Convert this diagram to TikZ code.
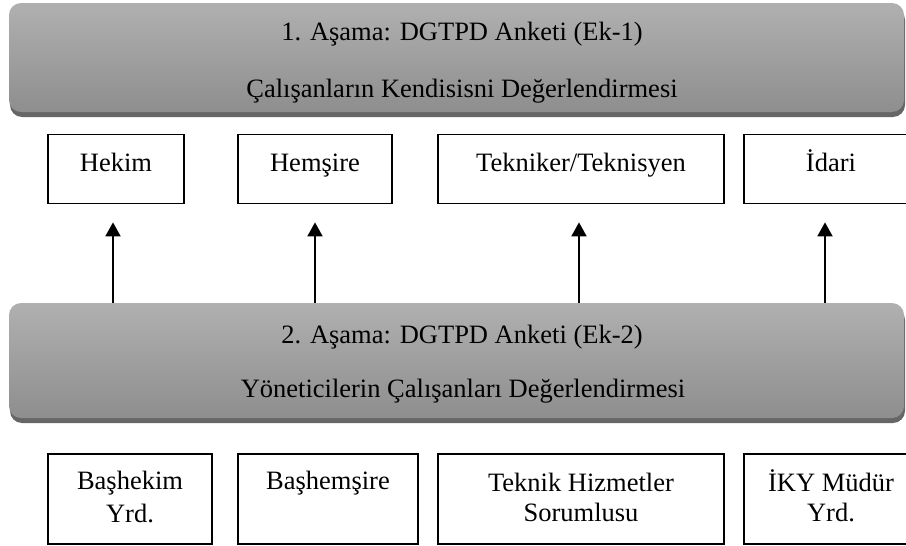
\documentclass[tikz,border=0pt]{standalone}
\usepackage{fontspec}
\setmainfont{Liberation Serif}
\usetikzlibrary{arrows.meta}
\definecolor{bantop}{RGB}{176,176,176}
\definecolor{banbot}{RGB}{142,142,142}
\definecolor{banshadow}{RGB}{102,102,102}
\begin{document}
\begin{tikzpicture}[x=1pt,y=-1pt,
  banner/.style={rectangle, rounded corners=12pt, top color=bantop, bottom color=banbot, draw=none, minimum width=895pt, inner sep=0pt},
  bshadow/.style={rectangle, rounded corners=12pt, fill=banshadow, draw=none, minimum width=895pt, inner sep=0pt},
  box/.style={rectangle, draw=black, line width=1.7pt, inner sep=0pt},
  lbl/.style={anchor=base, font=\fontsize{26.5}{32}\selectfont, inner sep=0pt},
  arr/.style={line width=1.8pt, -{Triangle[width=15pt,length=14pt]}}]
\useasboundingbox (0,0) rectangle (906,546);
\clip (0,0) rectangle (906,546);

% stage 1 banner
\node[bshadow, minimum height=109pt] (b1s) at (457.5,62.5) {};
\node[banner, minimum height=109pt] (b1) at (456.5,57.5) {};
\node[lbl] (t1a) at (462,41) {1. Aşama: DGTPD Anketi (Ek-1)};
\node[lbl] (t1b) at (462,97) {Çalışanların Kendisisni Değerlendirmesi};

% top boxes
\node[box, minimum width=136pt, minimum height=69pt] (hekim) at (116,169) {};
\node[box, minimum width=154pt, minimum height=69pt] (hemsire) at (315,169) {};
\node[box, minimum width=286pt, minimum height=69pt] (tekniker) at (581,169) {};
\node[box, minimum width=174pt, minimum height=69pt] (idari) at (831,169) {};
\node[lbl] (thekim) at (116,171) {Hekim};
\node[lbl] (themsire) at (315,171) {Hemşire};
\node[lbl] (ttekniker) at (581,171) {Tekniker/Teknisyen};
\node[lbl] (tidari) at (831,171) {İdari};

% stage 2 banner
\node[bshadow, minimum height=115pt] (b2s) at (457.5,365.5) {};
\node[banner, minimum height=115pt] (b2) at (456.5,360.5) {};
\node[lbl] (t2a) at (462,343) {2. Aşama: DGTPD Anketi (Ek-2)};
\node[lbl] (t2b) at (463,397) {Yöneticilerin Çalışanları Değerlendirmesi};

% arrows
\draw[arr] ([xshift=-3pt]hekim.south |- b2.north) -- ([xshift=-3pt,yshift=-18pt]hekim.south);
\draw[arr] (hemsire.south |- b2.north) -- ([yshift=-18pt]hemsire.south);
\draw[arr] ([xshift=-2pt]tekniker.south |- b2.north) -- ([xshift=-2pt,yshift=-18pt]tekniker.south);
\draw[arr] ([xshift=-6pt]idari.south |- b2.north) -- ([xshift=-6pt,yshift=-18pt]idari.south);

% bottom boxes
\node[box, minimum width=164pt, minimum height=90pt] (bashekim) at (130,499) {};
\node[box, minimum width=180pt, minimum height=90pt] (bashemsire) at (328,499) {};
\node[box, minimum width=286pt, minimum height=90pt] (teknik) at (581,499) {};
\node[box, minimum width=174pt, minimum height=90pt] (iky) at (831,499) {};
\node[lbl] (tbh1) at (130,489) {Başhekim};
\node[lbl] (tbh2) at (130,522) {Yrd.};
\node[lbl] (tbhs) at (328,489) {Başhemşire};
\node[lbl] (ttk1) at (581,491) {Teknik Hizmetler};
\node[lbl] (ttk2) at (581,521) {Sorumlusu};
\node[lbl] (tiky1) at (831,491) {İKY Müdür};
\node[lbl] (tiky2) at (831,521) {Yrd.};
\end{tikzpicture}
\end{document}
